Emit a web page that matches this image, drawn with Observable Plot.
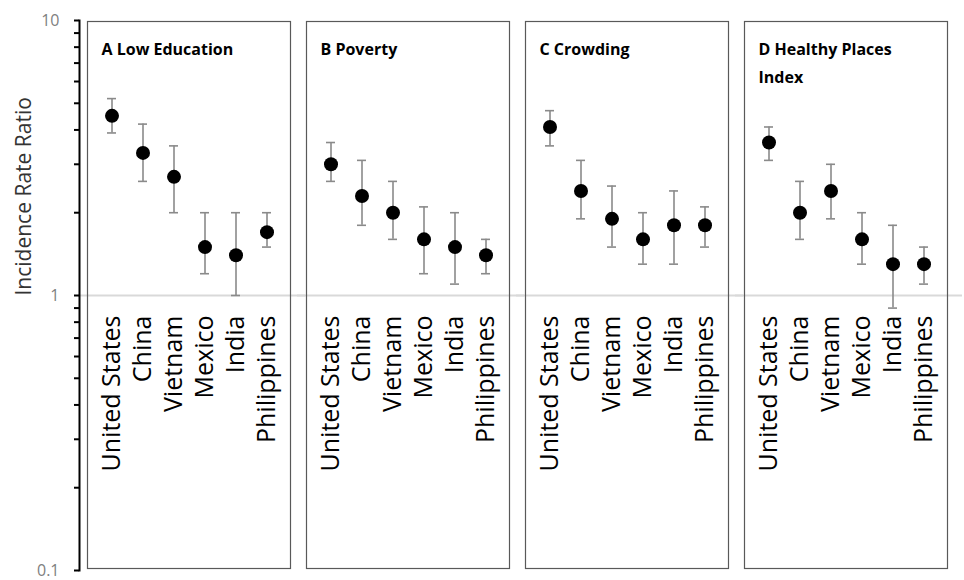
<!DOCTYPE html>
<html>
<head>
<meta charset="utf-8">
<script src="https://cdn.jsdelivr.net/npm/d3@7"></script>
<script src="https://cdn.jsdelivr.net/npm/@observablehq/plot@0.6"></script>
<style>
  html, body { margin: 0; padding: 0; background: #fff; }
</style>
</head>
<body>
<div id="chart"></div>
<script>
// Panels (facets)
const panels = ["A", "B", "C", "D"];
const panelTitles = ["A Low Education", "B Poverty", "C Crowding", "D Healthy Places\nIndex"];
const countries = ["United States", "China", "Vietnam", "Mexico", "India", "Philippines"];

// Incidence rate ratios with 95% CI, per panel
const lowEducationIRR   = [4.5, 3.3, 2.7, 1.5, 1.4, 1.7];
const lowEducationLower = [3.9, 2.6, 2.0, 1.2, 1.0, 1.5];
const lowEducationUpper = [5.2, 4.2, 3.5, 2.0, 2.0, 2.0];

const povertyIRR   = [3.0, 2.3, 2.0, 1.6, 1.5, 1.4];
const povertyLower = [2.6, 1.8, 1.6, 1.2, 1.1, 1.2];
const povertyUpper = [3.6, 3.1, 2.6, 2.1, 2.0, 1.6];

const crowdingIRR   = [4.1, 2.4, 1.9, 1.6, 1.8, 1.8];
const crowdingLower = [3.5, 1.9, 1.5, 1.3, 1.3, 1.5];
const crowdingUpper = [4.7, 3.1, 2.5, 2.0, 2.4, 2.1];

const hpiIRR   = [3.6, 2.0, 2.4, 1.6, 1.3, 1.3];
const hpiLower = [3.1, 1.6, 1.9, 1.3, 0.9, 1.1];
const hpiUpper = [4.1, 2.6, 3.0, 2.0, 1.8, 1.5];

// Y axis ticks and labels
const yTicks = [0.1, 0.2, 0.3, 0.4, 0.5, 0.6, 0.7, 0.8, 0.9, 1, 2, 3, 4, 5, 6, 7, 8, 9, 10];
const yTickLabels = [0.1, 1, 10];
const yLabel = "Incidence Rate Ratio";
const referenceValue = [1];

// Build table
const series = [
  [lowEducationIRR, lowEducationLower, lowEducationUpper],
  [povertyIRR, povertyLower, povertyUpper],
  [crowdingIRR, crowdingLower, crowdingUpper],
  [hpiIRR, hpiLower, hpiUpper]
];
const rows = [];
panels.forEach((p, i) => {
  const [est, lo, hi] = series[i];
  countries.forEach((c, j) => rows.push({panel: p, country: c, irr: est[j], lo: lo[j], hi: hi[j]}));
});
const titleRows = panels.map((p, i) => ({panel: p, title: panelTitles[i]}));

const chart = Plot.plot({
  width: 964,
  height: 580,
  marginTop: 20,
  marginBottom: 10,
  marginLeft: 78,
  marginRight: 15,
  style: {fontFamily: "'Open Sans', sans-serif", fontSize: "16px", background: "#fff"},
  fx: {domain: panels, paddingInner: 0.035, paddingOuter: 0, axis: null, label: null},
  x: {type: "band", domain: countries, paddingInner: 0.715, paddingOuter: 0.576, insetLeft: 8, axis: null},
  y: {type: "log", domain: [0.1, 10], axis: null},
  marks: [
    Plot.ruleY(referenceValue, {stroke: "#d9d9d9", strokeWidth: 2, insetLeft: -1, insetRight: -15}),
    Plot.frame({stroke: "#595959", strokeWidth: 1.2, insetLeft: 8, insetTop: 1, insetBottom: 2}),
    Plot.frame({anchor: "left", facetAnchor: "left", stroke: "#000", strokeWidth: 2}),
    Plot.axisY({
      ticks: yTicks,
      tickSize: 5,
      tickPadding: 15,
      tickFormat: d => yTickLabels.includes(d) ? String(d) : "",
      color: "#000",
      stroke: "#000",
      strokeOpacity: 1,
      fill: "#808080",
      strokeWidth: 2,
      fontSize: 16,
      label: null
    }),
    Plot.ruleX(rows, {fx: "panel", x: "country", y1: "lo", y2: "hi", stroke: "#8a8a8a", strokeWidth: 1.6}),
    Plot.tickY(rows, {fx: "panel", x: "country", y: "lo", stroke: "#8a8a8a", strokeWidth: 1.6}),
    Plot.tickY(rows, {fx: "panel", x: "country", y: "hi", stroke: "#8a8a8a", strokeWidth: 1.6}),
    Plot.dot(rows, {fx: "panel", x: "country", y: "irr", r: 7, fill: "#000", stroke: "none"}),
    Plot.text(countries, {x: d => d, y: () => referenceValue[0], dy: 20, rotate: -90, textAnchor: "end", fontSize: 25, fill: "#000"}),
    Plot.text(titleRows, {fx: "panel", text: "title", frameAnchor: "top-left", dx: 22, dy: 15, lineAnchor: "top", textAnchor: "start", fontWeight: "bold", fontSize: 16, lineHeight: 1.75, fill: "#000"}),
    Plot.text([yLabel], {fx: () => panels[0], text: d => d, frameAnchor: "left", rotate: -90, dx: -55, fontSize: 21, fill: "#333"})
  ]
});
document.getElementById("chart").appendChild(chart);
</script>
</body>
</html>
